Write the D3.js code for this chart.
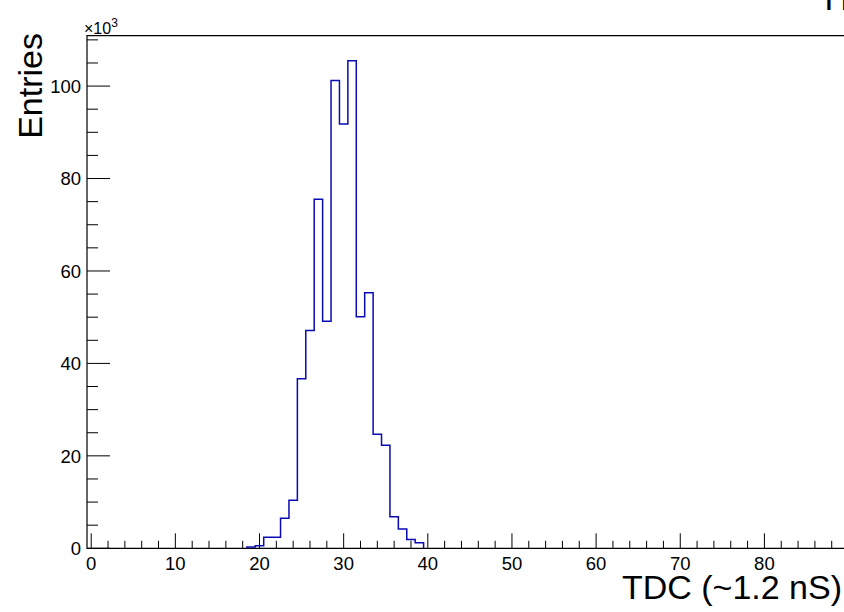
<!DOCTYPE html>
<html>
<head>
<meta charset="utf-8">
<script src="https://cdn.jsdelivr.net/npm/d3@7"></script>
<style>
  html, body { margin: 0; padding: 0; background: #fff; }
  svg { display: block; font-family: 'Liberation Sans', Arial, sans-serif; }
</style>
</head>
<body>
<svg id="main_chart" width="844" height="612"></svg>
<script>
(function() {
  // TDC histogram, bin width 1, bin centres
  const tdc_bins = [19, 20, 21, 22, 23, 24, 25, 26, 27, 28, 29, 30, 31, 32, 33, 34, 35, 36, 37, 38, 39];
  const entries = [280, 560, 2380, 2400, 6500, 10400, 36700, 47100, 75500, 49100, 101200, 91800, 105500, 50100, 55300, 24700, 22300, 6800, 4200, 1900, 1200];
  const x_ticks = [0, 10, 20, 30, 40, 50, 60, 70, 80];
  const y_ticks = [0, 20000, 40000, 60000, 80000, 100000];
  const x_title = 'TDC (~1.2 nS)';
  const y_title = 'Entries';

  const frame_left = 87, frame_top = 35.7, frame_bottom = 548.3;
  const svg = d3.select('#main_chart');

  const xScale = d3.scaleLinear().domain([-0.5, 99.5]).range([frame_left, frame_left + 841.5]);
  const yScale = d3.scaleLinear().domain([0, 110900]).range([frame_bottom, frame_top]);

  // frame
  svg.append('path')
    .attr('d', 'M' + xScale(99.5) + ',' + frame_top + 'H' + frame_left + 'V' + frame_bottom + 'H' + xScale(99.5))
    .attr('fill', 'none').attr('stroke', '#000').attr('stroke-width', 1.2);

  // x axis ticks (inside, pointing up)
  const x_minor = d3.range(0, 100, 2);
  svg.append('g').selectAll('line').data(x_minor).enter().append('line')
    .attr('x1', function(d) { return xScale(d); })
    .attr('x2', function(d) { return xScale(d); })
    .attr('y1', frame_bottom)
    .attr('y2', function(d) { return frame_bottom - (d % 10 === 0 ? 15 : 7.5); })
    .attr('stroke', '#000').attr('stroke-width', 1);
  svg.append('g').selectAll('text').data(x_ticks).enter().append('text')
    .attr('x', function(d) { return xScale(d); })
    .attr('y', 570)
    .attr('text-anchor', 'middle')
    .attr('font-size', 18.5)
    .text(function(d) { return d; });

  // y axis ticks
  const y_minor = d3.range(0, 110001, 5000);
  svg.append('g').selectAll('line').data(y_minor).enter().append('line')
    .attr('x1', frame_left)
    .attr('x2', function(d) { return frame_left + (d % 20000 === 0 ? 23 : 11); })
    .attr('y1', function(d) { return yScale(d); })
    .attr('y2', function(d) { return yScale(d); })
    .attr('stroke', '#000').attr('stroke-width', 1);
  svg.append('g').selectAll('text').data(y_ticks).enter().append('text')
    .attr('x', 81)
    .attr('y', function(d) { return yScale(d); })
    .attr('dy', '0.36em')
    .attr('text-anchor', 'end')
    .attr('font-size', 18.5)
    .text(function(d) { return d / 1000; });

  // x10^3 multiplier
  const mult = svg.append('text').attr('x', 84).attr('y', 34).attr('font-size', 16);
  mult.append('tspan').text('\u00d710');
  mult.append('tspan').attr('dy', -7).attr('font-size', 12).text('3');

  // histogram outline
  let d_path = 'M' + xScale(tdc_bins[0] - 0.5) + ',' + yScale(0);
  tdc_bins.forEach(function(b, i) {
    d_path += 'V' + yScale(entries[i]) + 'H' + xScale(b + 0.5);
  });
  d_path += 'V' + yScale(0);
  svg.append('path').attr('d', d_path)
    .attr('fill', 'none').attr('stroke', '#0a0ab4').attr('stroke-width', 1.5);

  // axis titles
  svg.append('text').attr('x', 842).attr('y', 599)
    .attr('text-anchor', 'end').attr('font-size', 34).text(x_title);
  svg.append('text').attr('transform', 'translate(42,33) rotate(-90)')
    .attr('text-anchor', 'end').attr('font-size', 34).text(y_title);

  // title, cut off by the top edge
  svg.append('text').attr('x', 824.5).attr('y', 10).attr('font-size', 34).text('H');
}());
</script>
</body>
</html>
